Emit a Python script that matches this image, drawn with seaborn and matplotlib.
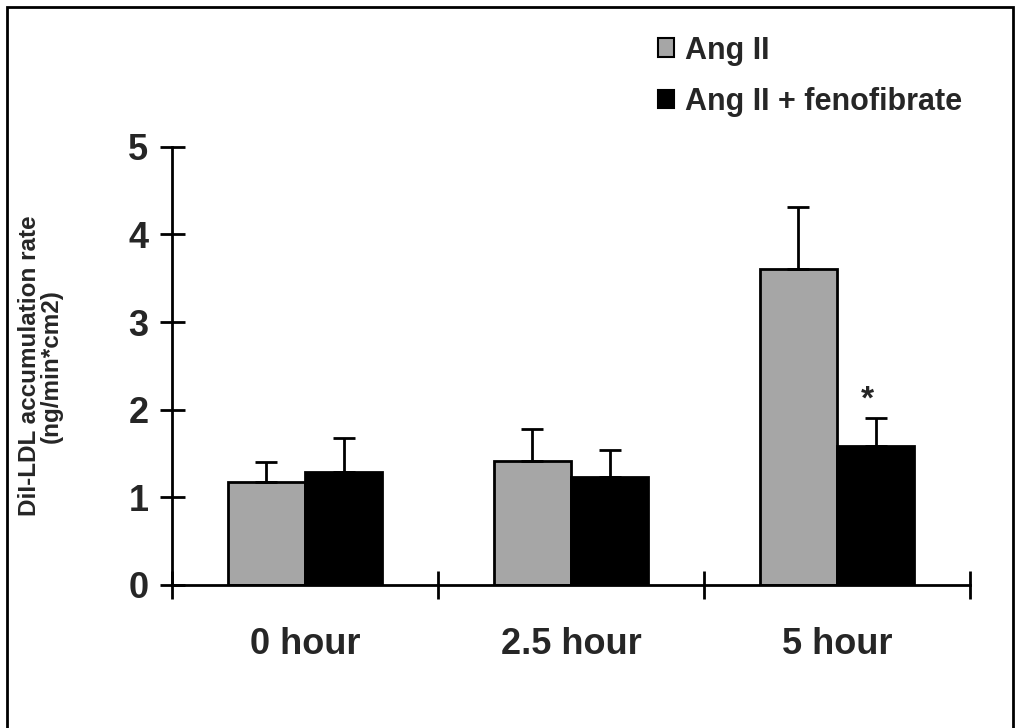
import matplotlib
matplotlib.use("Agg")
import matplotlib.pyplot as plt
import matplotlib.patches as mpatches
import seaborn as sns
import pandas as pd
import numpy as np

categories = ["0 hour", "2.5 hour", "5 hour"]
groups = ["Ang II", "Ang II + fenofibrate"]
ang_ii = [1.18, 1.41, 3.60]
ang_ii_err = [0.22, 0.37, 0.71]
ang_feno = [1.29, 1.235, 1.58]
ang_feno_err = [0.39, 0.31, 0.32]
yticks = [0, 1, 2, 3, 4, 5]
colors = ["#a6a6a6", "#000000"]

sns.set_theme(style="white")
plt.rcParams['font.family'] = ['Liberation Sans', 'DejaVu Sans']
plt.rcParams['font.weight'] = 'bold'

df = pd.DataFrame({
    "time": categories * 2,
    "group": [groups[0]] * 3 + [groups[1]] * 3,
    "value": ang_ii + ang_feno,
})

fig = plt.figure(figsize=(10.18, 7.28), dpi=100)
ax = fig.add_axes([172/1018, 1 - 585/728, (970-172)/1018, (585-146.7)/728])

sns.barplot(data=df, x="time", y="value", hue="group", order=categories,
            hue_order=groups, palette=colors, width=0.58, errorbar=None,
            edgecolor="black", linewidth=2, ax=ax, legend=False, saturation=1)

bar_conts = list(ax.containers)
errs = [ang_ii_err, ang_feno_err]
vals = [ang_ii, ang_feno]
for gi, cont in enumerate(bar_conts):
    xs = [p.get_x() + p.get_width() / 2 for p in cont.patches]
    ax.errorbar(xs, vals[gi], yerr=[np.zeros(3), errs[gi]], fmt="none",
                ecolor="black", elinewidth=2, capsize=8, capthick=2, zorder=1)

# asterisk above 5-hour fenofibrate bar
p = bar_conts[1].patches[2]
ax.text(p.get_x() + p.get_width() / 2 - 0.03, ang_feno[2] + ang_feno_err[2] + 0.03, "*",
        ha="center", va="bottom", fontsize=24, fontweight="bold")

ax.set_ylim(0, 5)
ax.set_xlim(-0.5, 2.5)
ax.set_yticks(yticks)
ax.set_yticklabels([str(t) for t in yticks], fontsize=26, fontweight="bold")
ax.set_xticks(range(3))
ax.set_xticklabels(categories, fontsize=26, fontweight="bold")
ax.set_xticks([-0.5, 0.5, 1.5, 2.5], minor=True)
ax.tick_params(axis="x", which="major", length=0, pad=30)
ax.tick_params(axis="x", which="minor", direction="inout", length=20, width=2, color="black", bottom=True)
ax.tick_params(axis="y", direction="inout", length=18, width=2, color="black", pad=8, left=True)
ax.set_xlabel("")
ax.set_ylabel("DiI-LDL accumulation rate\n(ng/min*cm2)", fontsize=17.5, fontweight="bold",
              linespacing=0.95)
ax.yaxis.set_label_coords((63 - 172) / 798, 0.5)
for s in ["top", "right"]:
    ax.spines[s].set_visible(False)
for s in ["left", "bottom"]:
    ax.spines[s].set_color("black")
    ax.spines[s].set_linewidth(2)

handles = [mpatches.Patch(facecolor=c, edgecolor="black", linewidth=1.5) for c in colors]
fig.legend(handles, groups, loc="upper left", bbox_to_anchor=(630/1018, 1 - 8/728),
           frameon=False, prop={"size": 22, "weight": "bold"}, handlelength=0.55,
           handleheight=0.55, handletextpad=0.35, labelspacing=0.7)

border = mpatches.Rectangle((7/1018, -0.05), (1013-7)/1018, 1.05 - 7/728,
                            transform=fig.transFigure, fill=False, edgecolor="black",
                            linewidth=2)
fig.patches.append(border)

fig.savefig("out.png", dpi=100)
